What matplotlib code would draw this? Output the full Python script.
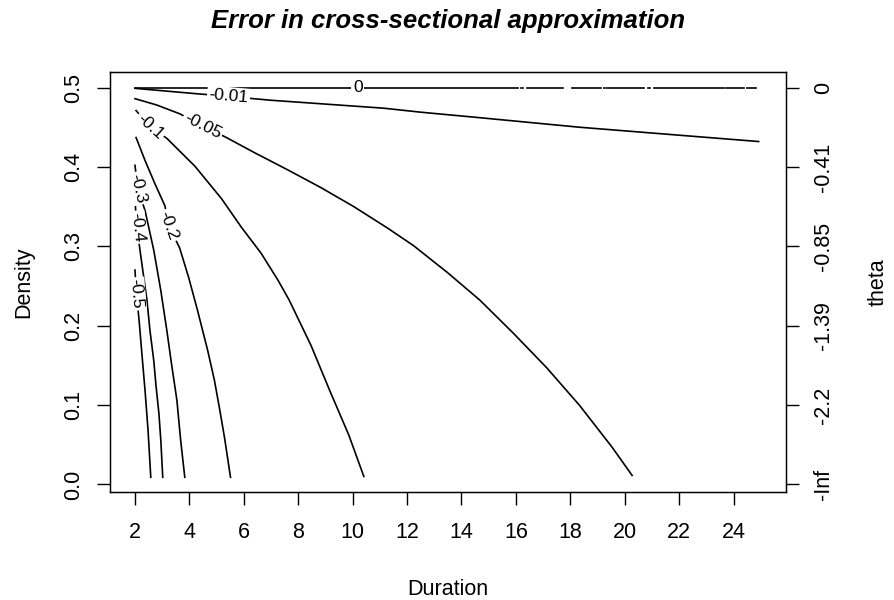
import numpy as np
import matplotlib.pyplot as plt

plt.rcParams['font.family'] = ['Liberation Sans', 'DejaVu Sans']

# contour lines, (Duration, Density) pairs per level
lev_labels = ['-0.5', '-0.4', '-0.3', '-0.2', '-0.1', '-0.05', '-0.01']

c050_x = [2.0, 2.05, 2.15, 2.26, 2.37, 2.48, 2.58]
c050_y = [0.27, 0.24, 0.207, 0.162, 0.118, 0.068, 0.009]

c040_x = [2.0, 2.07, 2.22, 2.44, 2.55, 2.69, 2.77, 2.88, 2.95, 3.02]
c040_y = [0.358, 0.324, 0.286, 0.232, 0.194, 0.156, 0.125, 0.089, 0.055, 0.009]

c030_x = [2.0, 2.1, 2.37, 2.69, 2.95, 3.17, 3.35, 3.54, 3.68, 3.83]
c030_y = [0.402, 0.373, 0.345, 0.295, 0.244, 0.194, 0.150, 0.106, 0.055, 0.009]

c020_x = [2.04, 2.37, 2.73, 3.10, 3.24, 3.64, 3.97, 4.30, 4.67, 4.92, 5.12, 5.29, 5.51]
c020_y = [0.437, 0.408, 0.379, 0.351, 0.326, 0.298, 0.261, 0.219, 0.169, 0.131, 0.093, 0.059, 0.009]

c010_x = [2.04, 2.55, 3.17, 4.2, 5.18, 5.91, 6.64, 7.26, 7.67, 8.47, 9.16, 9.86, 10.41]
c010_y = [0.471, 0.451, 0.436, 0.401, 0.360, 0.324, 0.291, 0.257, 0.232, 0.175, 0.118, 0.062, 0.010]

c005_x = [2.0, 2.8, 3.64, 4.49, 5.36, 6.39, 7.63, 8.83, 10.04, 11.28, 12.23, 13.48,
          14.68, 15.89, 17.13, 18.34, 19.54, 20.27]
c005_y = [0.486, 0.478, 0.467, 0.452, 0.437, 0.418, 0.396, 0.374, 0.350, 0.323, 0.301, 0.267,
          0.232, 0.191, 0.147, 0.0995, 0.0466, 0.0113]

c001_x = [2.0, 4.34, 5.44, 6.35, 7.0, 11.14, 12.49, 14.68, 18.34, 21.99, 24.92]
c001_y = [0.499, 0.492, 0.489, 0.486, 0.484, 0.474, 0.469, 0.462, 0.450, 0.440, 0.432]

# the 0 level sits on Density = 0.5 and breaks up towards the right
zero_y = 0.5
zero_label_x = 10.19
zero_start = [2.0, 16.20, 16.40, 18.05, 19.22, 19.36, 20.87, 21.08, 23.71, 24.48]
zero_end = [16.07, 16.25, 17.72, 19.14, 19.28, 20.71, 20.93, 23.64, 24.37, 24.84]

left_ticks = [0.0, 0.1, 0.2, 0.3, 0.4, 0.5]
theta_labels = ['-Inf', '-2.2', '-1.39', '-0.85', '-0.41', '0']
x_ticks = list(range(2, 25, 2))

lines_x = [c050_x, c040_x, c030_x, c020_x, c010_x, c005_x, c001_x]
lines_y = [c050_y, c040_y, c030_y, c020_y, c010_y, c005_y, c001_y]
label_idx = [1, 1, 1, 4, 1, 3, 2]

fig = plt.figure(figsize=(8.94, 6.0), dpi=100)
ax = fig.add_axes([0.123, 0.18, 0.756, 0.70])
ax.set_xlim(2 - 0.92, 25 + 0.92)
ax.set_ylim(-0.0096, 0.5196)

lw = 1.2
lab_fs = 12.5
fs = 15.5

def put_label(txt, x, y, ang):
    ax.text(x, y, txt, fontsize=lab_fs, rotation=ang, rotation_mode='anchor',
            ha='center', va='center', zorder=5,
            bbox=dict(boxstyle='square,pad=0.1', fc='white', ec='none'))

for xs, ys, txt, k in zip(lines_x, lines_y, lev_labels, label_idx):
    ax.plot(xs, ys, color='black', lw=lw, zorder=2)
    p0 = ax.transData.transform((xs[k - 1], ys[k - 1]))
    p1 = ax.transData.transform((xs[k + 1], ys[k + 1]))
    ang = np.degrees(np.arctan2(p1[1] - p0[1], p1[0] - p0[0]))
    put_label(txt, xs[k], ys[k], ang)

for a, b in zip(zero_start, zero_end):
    ax.plot([a, b], [zero_y, zero_y], color='black', lw=lw, zorder=2)
put_label('0', zero_label_x, zero_y, 0)

ax.set_xticks(x_ticks)
ax.set_yticks(left_ticks)
ax.set_yticklabels(['%.1f' % v for v in left_ticks], rotation=90, va='center')
ax.tick_params(direction='out', length=9.5, width=1, labelsize=fs, pad=12)
ax.tick_params(axis='y', pad=9)
for s in ax.spines.values():
    s.set_linewidth(1)

ax.set_xlabel('Duration', fontsize=fs, labelpad=26)
ax.set_ylabel('Density', fontsize=fs, labelpad=21)

ax2 = ax.twinx()
ax2.set_ylim(ax.get_ylim())
ax2.set_yticks(left_ticks)
ax2.set_yticklabels(theta_labels, rotation=90, va='center')
ax2.tick_params(direction='out', length=9.5, width=1, labelsize=fs, pad=10)
ax2.set_ylabel('theta', fontsize=fs, labelpad=24)

ax.set_title('Error in cross-sectional approximation', fontsize=18.5,
             fontweight='bold', fontstyle='italic', pad=32)

plt.savefig('out.png', dpi=100)
plt.close()
